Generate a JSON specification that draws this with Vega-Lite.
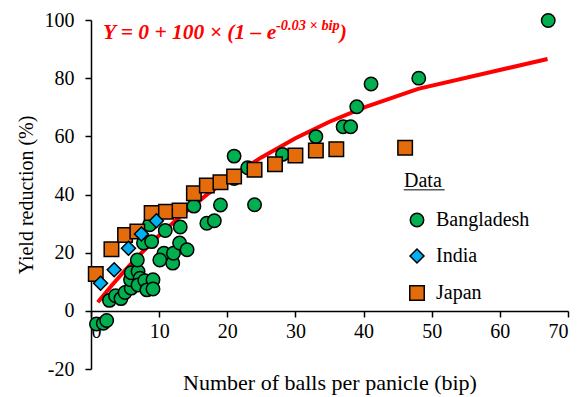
{
  "$schema": "https://vega.github.io/schema/vega-lite/v6.json",
  "width": 477,
  "height": 349,
  "autosize": {"type": "none"},
  "padding": {"left": 91, "top": 20, "right": 10, "bottom": 28},
  "config": {
    "view": {"stroke": null},
    "font": "Liberation Serif",
    "axis": {"grid": false, "domainColor": "black", "tickColor": "black", "labelColor": "black", "titleColor": "black", "labelFont": "Liberation Serif", "titleFont": "Liberation Serif", "labelFontSize": 20, "titleFontSize": 20, "titleFontWeight": "normal", "domainWidth": 1.5, "tickWidth": 1.5, "tickSize": 6, "labelExpr": "replace(datum.label, '−', '-')"}
  },
  "datasets": {
    "curve": [
      {"bip": 1, "fit": 2.96}, {"bip": 3, "fit": 8.61}, {"bip": 5, "fit": 13.93}, {"bip": 7, "fit": 18.94},
      {"bip": 10, "fit": 25.92}, {"bip": 13, "fit": 32.30}, {"bip": 17, "fit": 39.95}, {"bip": 21, "fit": 46.74},
      {"bip": 25, "fit": 52.76}, {"bip": 30, "fit": 59.34}, {"bip": 35, "fit": 65.01}, {"bip": 40, "fit": 69.88},
      {"bip": 48, "fit": 76.31}, {"bip": 67, "fit": 86.60}
    ],
    "points": [
      {"country": "Bangladesh", "bip": 0.8, "yr": -4.5}, {"country": "Bangladesh", "bip": 1.8, "yr": -4.3}, {"country": "Bangladesh", "bip": 2.3, "yr": -3.3},
      {"country": "Bangladesh", "bip": 2.7, "yr": 3.6}, {"country": "Bangladesh", "bip": 3.6, "yr": 5.2}, {"country": "Bangladesh", "bip": 4.4, "yr": 4.2},
      {"country": "Bangladesh", "bip": 5.0, "yr": 6.3}, {"country": "Bangladesh", "bip": 5.9, "yr": 7.8}, {"country": "Bangladesh", "bip": 5.8, "yr": 10.7},
      {"country": "Bangladesh", "bip": 5.9, "yr": 13.1}, {"country": "Bangladesh", "bip": 6.9, "yr": 13.5}, {"country": "Bangladesh", "bip": 6.8, "yr": 17.5},
      {"country": "Bangladesh", "bip": 7.2, "yr": 11.2}, {"country": "Bangladesh", "bip": 6.9, "yr": 8.9}, {"country": "Bangladesh", "bip": 7.9, "yr": 10.4},
      {"country": "Bangladesh", "bip": 8.2, "yr": 7.2}, {"country": "Bangladesh", "bip": 9.1, "yr": 10.7}, {"country": "Bangladesh", "bip": 9.1, "yr": 7.5},
      {"country": "Bangladesh", "bip": 7.7, "yr": 23.3}, {"country": "Bangladesh", "bip": 8.9, "yr": 23.8}, {"country": "Bangladesh", "bip": 8.6, "yr": 29.6},
      {"country": "Bangladesh", "bip": 10.9, "yr": 27.6}, {"country": "Bangladesh", "bip": 10.7, "yr": 19.8}, {"country": "Bangladesh", "bip": 10.1, "yr": 17.5},
      {"country": "Bangladesh", "bip": 12.0, "yr": 16.4}, {"country": "Bangladesh", "bip": 12.1, "yr": 19.8}, {"country": "Bangladesh", "bip": 13.0, "yr": 23.3},
      {"country": "Bangladesh", "bip": 14.1, "yr": 21.0}, {"country": "Bangladesh", "bip": 13.1, "yr": 28.8}, {"country": "Bangladesh", "bip": 15.1, "yr": 36.0},
      {"country": "Bangladesh", "bip": 17.0, "yr": 30.1}, {"country": "Bangladesh", "bip": 18.1, "yr": 31.0}, {"country": "Bangladesh", "bip": 19.0, "yr": 36.4},
      {"country": "Bangladesh", "bip": 21.0, "yr": 53.2}, {"country": "Bangladesh", "bip": 21.0, "yr": 45.5}, {"country": "Bangladesh", "bip": 23.0, "yr": 49.2},
      {"country": "Bangladesh", "bip": 24.0, "yr": 36.5}, {"country": "Bangladesh", "bip": 28.1, "yr": 53.8}, {"country": "Bangladesh", "bip": 33.0, "yr": 59.9},
      {"country": "Bangladesh", "bip": 37.0, "yr": 63.3}, {"country": "Bangladesh", "bip": 38.1, "yr": 63.3}, {"country": "Bangladesh", "bip": 39.0, "yr": 70.2},
      {"country": "Bangladesh", "bip": 41.1, "yr": 78.0}, {"country": "Bangladesh", "bip": 48.1, "yr": 80.0}, {"country": "Bangladesh", "bip": 67.1, "yr": 99.8},
      {"country": "Japan", "bip": 0.7, "yr": 12.7}, {"country": "Japan", "bip": 3.0, "yr": 21.2}, {"country": "Japan", "bip": 5.0, "yr": 26.1},
      {"country": "Japan", "bip": 6.8, "yr": 27.3}, {"country": "Japan", "bip": 8.9, "yr": 33.6}, {"country": "Japan", "bip": 11.0, "yr": 34.1},
      {"country": "Japan", "bip": 13.0, "yr": 34.5}, {"country": "Japan", "bip": 15.1, "yr": 40.4}, {"country": "Japan", "bip": 17.0, "yr": 43.1},
      {"country": "Japan", "bip": 19.0, "yr": 44.2}, {"country": "Japan", "bip": 21.0, "yr": 46.2}, {"country": "Japan", "bip": 24.0, "yr": 48.5},
      {"country": "Japan", "bip": 27.0, "yr": 50.4}, {"country": "Japan", "bip": 30.0, "yr": 53.4}, {"country": "Japan", "bip": 33.0, "yr": 55.1},
      {"country": "Japan", "bip": 36.0, "yr": 55.6}, {"country": "Japan", "bip": 46.1, "yr": 56.1},
      {"country": "India", "bip": 1.4, "yr": 9.5}, {"country": "India", "bip": 3.4, "yr": 14.1}, {"country": "India", "bip": 5.5, "yr": 21.5},
      {"country": "India", "bip": 7.4, "yr": 26.4}, {"country": "India", "bip": 9.6, "yr": 31.0}
    ],
    "one": [{}]
  },
  "layer": [
    {
      "data": {"name": "curve"},
      "mark": {"type": "line", "color": "#FF0000", "strokeWidth": 4},
      "encoding": {
        "x": {"field": "bip", "type": "quantitative", "scale": {"domain": [0, 70], "nice": false},
          "axis": {"values": [0, 10, 20, 30, 40, 50, 60, 70], "offset": -58, "labelPadding": 4, "title": "Number of balls per panicle (bip)", "titleFontSize": 22, "titlePadding": 31}},
        "y": {"field": "fit", "type": "quantitative", "scale": {"domain": [-20, 100], "nice": false},
          "axis": {"values": [-20, 0, 20, 40, 60, 80, 100], "labelPadding": 11, "title": "Yield reduction (%)", "titlePadding": 8}}
      }
    },
    {
      "data": {"name": "points"},
      "mark": {"type": "point", "filled": true, "stroke": "black", "strokeWidth": 1.5, "opacity": 1},
      "encoding": {
        "x": {"field": "bip", "type": "quantitative"},
        "y": {"field": "yr", "type": "quantitative"},
        "color": {"field": "country", "type": "nominal", "scale": {"domain": ["Bangladesh", "India", "Japan"], "range": ["#00B050", "#00B0F0", "#E46C0A"]},
          "legend": {"title": "Data", "orient": "none", "legendX": 313, "legendY": 151, "padding": 0, "titleFont": "Liberation Serif", "titleFontSize": 20, "titleFontWeight": "normal", "titleColor": "black", "titlePadding": 19, "labelFont": "Liberation Serif", "labelFontSize": 20, "labelColor": "black", "rowPadding": 16, "symbolSize": 280, "symbolStrokeColor": "black", "symbolStrokeWidth": 1.5, "symbolOffset": 3, "labelOffset": 9}},
        "shape": {"field": "country", "type": "nominal", "scale": {"domain": ["Bangladesh", "India", "Japan"], "range": ["circle", "diamond", "square"]}},
        "size": {"field": "country", "type": "nominal", "scale": {"domain": ["Bangladesh", "India", "Japan"], "range": [180, 210, 160]}, "legend": null}
      }
    },
    {
      "data": {"name": "one"},
      "mark": {"type": "rule", "color": "black", "strokeWidth": 1},
      "encoding": {"x": {"datum": 45.9}, "x2": {"datum": 51.9}, "y": {"datum": 41.6}}
    },
    {
      "data": {"name": "one"},
      "mark": {"type": "text", "align": "left", "baseline": "alphabetic", "color": "#FF0000", "fontSize": 21.5, "fontWeight": "bold", "fontStyle": "italic", "font": "Liberation Serif"},
      "encoding": {"x": {"datum": 1.76}, "y": {"datum": 93.5}, "text": {"value": "Y = 0 + 100 × (1 – e"}}
    },
    {
      "data": {"name": "one"},
      "mark": {"type": "text", "align": "left", "baseline": "alphabetic", "color": "#FF0000", "fontSize": 14.4, "fontWeight": "bold", "fontStyle": "italic", "font": "Liberation Serif"},
      "encoding": {"x": {"datum": 27.15}, "y": {"datum": 96.6}, "text": {"value": "-0.03 × bip"}}
    },
    {
      "data": {"name": "one"},
      "mark": {"type": "text", "align": "left", "baseline": "alphabetic", "color": "#FF0000", "fontSize": 21.5, "fontWeight": "bold", "fontStyle": "italic", "font": "Liberation Serif"},
      "encoding": {"x": {"datum": 36.5}, "y": {"datum": 93.5}, "text": {"value": ")"}}
    }
  ]
}
